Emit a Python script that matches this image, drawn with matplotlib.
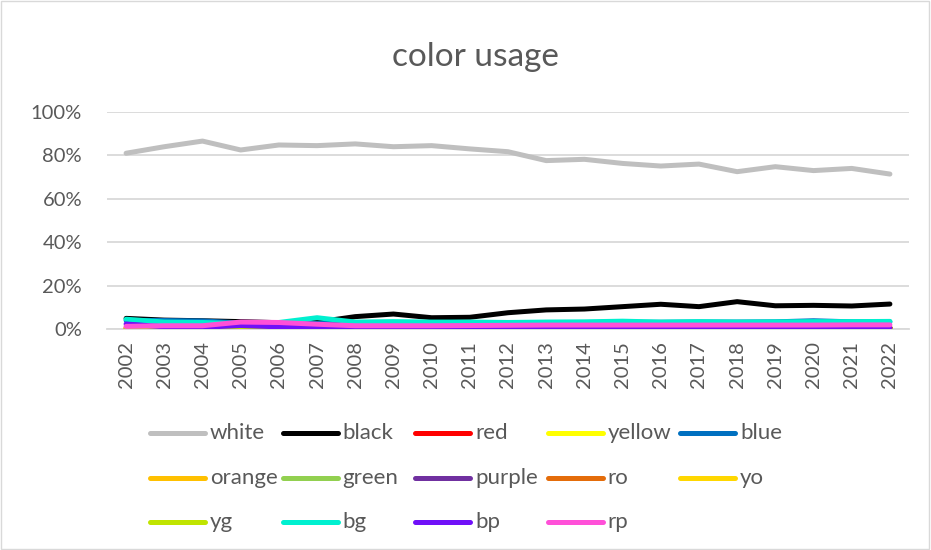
import matplotlib
matplotlib.use("Agg")
import matplotlib.pyplot as plt
from matplotlib.lines import Line2D
from matplotlib.patches import Rectangle
from matplotlib.ticker import PercentFormatter

years = [str(y) for y in range(2002, 2023)]

white  = [81.0, 84.0, 86.6, 82.5, 84.8, 84.5, 85.3, 84.0, 84.5, 83.0, 81.7, 77.6, 78.2, 76.3, 75.1, 76.0, 72.5, 74.8, 73.0, 74.0, 71.4]
black  = [4.9, 4.1, 3.8, 3.4, 2.9, 3.2, 5.7, 6.9, 5.2, 5.4, 7.5, 8.8, 9.2, 10.3, 11.4, 10.3, 12.6, 10.7, 10.9, 10.6, 11.5]
red    = [0.4, 0.3, 0.3, 0.3, 0.3, 0.3, 0.3, 0.3, 0.3, 0.3, 0.3, 0.3, 0.3, 0.3, 0.3, 0.3, 0.3, 0.3, 0.3, 0.3, 0.3]
yellow = [0.2, 0.2, 0.2, 0.2, 0.2, 0.2, 0.2, 0.2, 0.2, 0.2, 0.2, 0.2, 0.2, 0.2, 0.2, 0.2, 0.2, 0.2, 0.2, 0.2, 0.2]
blue   = [4.0, 3.9, 3.7, 2.8, 2.6, 2.5, 2.6, 2.7, 2.7, 2.8, 2.9, 3.0, 3.0, 3.1, 3.1, 3.2, 3.2, 3.3, 3.8, 3.3, 3.3]
orange = [0.6, 0.4, 0.4, 0.4, 0.4, 0.4, 0.4, 0.4, 0.4, 0.4, 0.4, 0.4, 0.4, 0.4, 0.4, 0.4, 0.4, 0.4, 0.4, 0.4, 0.4]
green  = [0.5, 0.5, 0.5, 0.5, 0.5, 0.5, 0.5, 0.5, 0.5, 0.5, 0.5, 0.5, 0.5, 0.5, 0.5, 0.5, 0.5, 0.5, 0.5, 0.5, 0.5]
purple = [0.4, 0.4, 0.4, 0.4, 0.4, 0.4, 0.4, 0.4, 0.4, 0.4, 0.4, 0.4, 0.4, 0.4, 0.4, 0.4, 0.4, 0.4, 0.4, 0.4, 0.4]
ro     = [0.3, 0.3, 0.3, 0.3, 0.3, 0.3, 0.3, 0.3, 0.3, 0.3, 0.3, 0.3, 0.3, 0.3, 0.3, 0.3, 0.3, 0.3, 0.3, 0.3, 0.3]
yo     = [0.2, 0.2, 0.2, 0.2, 0.2, 0.2, 0.2, 0.2, 0.2, 0.2, 0.2, 0.2, 0.2, 0.2, 0.2, 0.2, 0.2, 0.2, 0.2, 0.2, 0.2]
yg     = [0.1, 0.1, 0.1, 0.0, 0.1, 0.1, 0.1, 0.1, 0.1, 0.1, 0.1, 0.1, 0.1, 0.1, 0.1, 0.1, 0.1, 0.1, 0.1, 0.1, 0.1]
bg     = [4.5, 3.2, 3.0, 2.5, 3.0, 5.2, 3.2, 3.4, 3.2, 3.2, 3.0, 3.2, 3.3, 3.6, 3.2, 3.4, 3.2, 3.3, 3.4, 3.4, 3.5]
bp     = [2.3, 1.0, 0.8, 1.6, 1.0, 0.5, 0.3, 0.3, 0.3, 0.3, 0.3, 0.3, 0.3, 0.3, 0.3, 0.3, 0.3, 0.3, 0.3, 0.3, 0.4]
rp     = [1.2, 1.5, 1.5, 3.2, 3.0, 2.2, 1.5, 1.5, 1.5, 1.6, 1.7, 1.8, 1.8, 1.8, 1.8, 1.8, 1.8, 1.8, 1.8, 1.9, 1.9]

names = ["white", "black", "red", "yellow", "blue", "orange", "green", "purple",
         "ro", "yo", "yg", "bg", "bp", "rp"]
series = [white, black, red, yellow, blue, orange, green, purple, ro, yo, yg, bg, bp, rp]
colors = ["#BFBFBF", "#000000", "#FF0000", "#FFFF00", "#0070C0", "#FFC000", "#92D050",
          "#7030A0", "#E46C0A", "#FFD700", "#C0E400", "#00F0D0", "#7010F8", "#FF50D8"]

plt.rcParams['font.family'] = ['Lato', 'DejaVu Sans']
txt = "#595959"
grid = "#D9D9D9"

fig = plt.figure(figsize=(9.31, 5.5), dpi=100)
fig.patches.append(Rectangle((0.001, 0.001), 0.997, 0.997, transform=fig.transFigure,
                             fill=False, edgecolor=grid, linewidth=1))

ax = fig.add_axes([107/931, 1 - 329/550, 802/931, 217/550])
x = list(range(len(years)))
for vals, c, n in zip(series, colors, names):
    ax.plot(x, [v / 100 for v in vals], color=c, lw=3.6, label=n,
            solid_capstyle='round', solid_joinstyle='round', zorder=3)

ax.set_xlim(-0.5, len(years) - 0.5)
ax.set_ylim(0, 1.0)
ax.set_yticks([0, 0.2, 0.4, 0.6, 0.8, 1.0])
ax.yaxis.set_major_formatter(PercentFormatter(1.0, decimals=0))
ax.grid(axis='y', color=grid, lw=1.3, zorder=0)
for s in ['top', 'right', 'left']:
    ax.spines[s].set_visible(False)
ax.spines['bottom'].set_color(grid)
ax.spines['bottom'].set_linewidth(1.3)
ax.set_xticks(x)
ax.set_xticklabels(years, rotation=90)
ax.tick_params(axis='both', length=0, labelsize=14.5, colors=txt, pad=9)
ax.tick_params(axis='y', pad=18)

fig.text(475/931, 1 - 57/550, "color usage", ha='center', va='center', fontsize=24, color=txt)

# legend, 5 columns x 3 rows, laid out like Excel
col_x0 = 150 / 931
col_step = 132.5 / 931
row_y = [1 - 433/550, 1 - 478/550, 1 - 522/550]
hlen = 55 / 931
for i, (n, c) in enumerate(zip(names, colors)):
    r, k = divmod(i, 5)
    x0 = col_x0 + k * col_step
    y0 = row_y[r]
    fig.add_artist(Line2D([x0, x0 + hlen], [y0, y0], transform=fig.transFigure,
                          color=c, lw=3.6, solid_capstyle='round'))
    fig.text(x0 + hlen + 5/931, y0, n, ha='left', va='center', fontsize=16, color=txt)

fig.savefig("out.png", dpi=100)
